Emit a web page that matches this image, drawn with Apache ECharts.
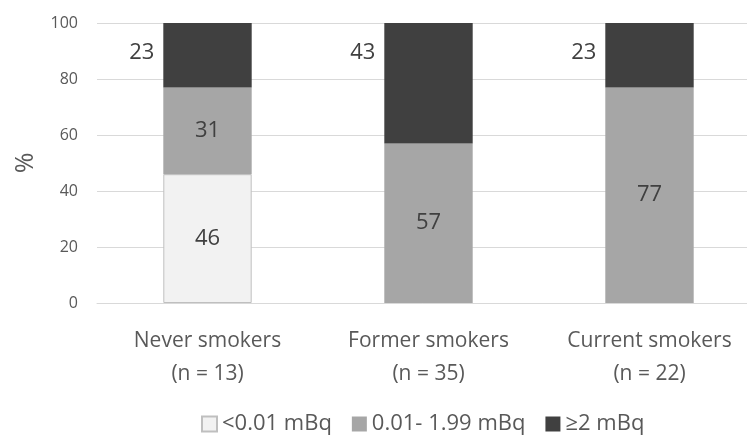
<!DOCTYPE html>
<html><head><meta charset="utf-8">
<script src="https://cdn.jsdelivr.net/npm/echarts@6/dist/echarts.min.js"></script>
<style>html,body{margin:0;padding:0;background:#fff}#c{width:747px;height:437px}</style>
</head><body><div id="c"></div>
<script>
const categories = ['Never smokers\n(n = 13)', 'Former smokers\n(n = 35)', 'Current smokers\n(n = 22)'];
const seriesNames = ['<0.01 mBq', '0.01- 1.99 mBq', '≥2 mBq'];
const lowVals = [46, 0, 0];
const midVals = [31, 57, 77];
const highVals = [23, 43, 23];
const yTicks = [0, 20, 40, 60, 80, 100];

const FONT = '"Open Sans", "Liberation Sans", sans-serif';
const toData = arr => arr.map(v => v === 0 ? '-' : v);
const chart = echarts.init(document.getElementById('c'));
chart.setOption({
  animation: false,
  textStyle: { fontFamily: FONT },
  grid: { left: 97, width: 663, top: 23, height: 280, containLabel: false, outerBoundsMode: 'none' },
  legend: {
    top: 408, left: 196, itemWidth: 15, itemHeight: 15, itemGap: 20,
    icon: 'rect',
    textStyle: { fontSize: 22, color: '#595959', fontFamily: FONT },
    data: seriesNames
  },
  xAxis: {
    type: 'category', data: categories,
    axisLine: { lineStyle: { color: '#d9d9d9', width: 1 } },
    axisTick: { show: false },
    axisLabel: { fontSize: 21, color: '#595959', lineHeight: 33, margin: 22, fontFamily: FONT }
  },
  yAxis: {
    type: 'value', min: yTicks[0], max: yTicks[yTicks.length - 1], interval: 20,
    name: '%', nameLocation: 'middle', nameGap: 59, nameRotate: 90,
    nameTextStyle: { fontSize: 25, color: '#595959', fontFamily: FONT },
    axisLine: { show: false }, axisTick: { show: false },
    axisLabel: { fontSize: 16, color: '#595959', margin: 19, fontFamily: FONT },
    splitLine: { lineStyle: { color: '#d9d9d9', width: 1 } }
  },
  series: [
    { name: seriesNames[0], type: 'bar', stack: 's', barWidth: '40%', data: toData(lowVals),
      itemStyle: { color: '#f2f2f2', borderColor: '#bfbfbf', borderWidth: 1 },
      label: { show: true, position: 'inside', fontSize: 22, color: '#404040', fontFamily: FONT } },
    { name: seriesNames[1], type: 'bar', stack: 's', data: toData(midVals),
      itemStyle: { color: '#a6a6a6' },
      label: { show: true, position: 'inside', fontSize: 22, color: '#404040', fontFamily: FONT } },
    { name: seriesNames[2], type: 'bar', stack: 's', data: toData(highVals),
      itemStyle: { color: '#404040' },
      label: { show: true, position: [-9, 30], align: 'right', verticalAlign: 'middle', fontSize: 22, color: '#404040', fontFamily: FONT } }
  ]
});
</script></body></html>
